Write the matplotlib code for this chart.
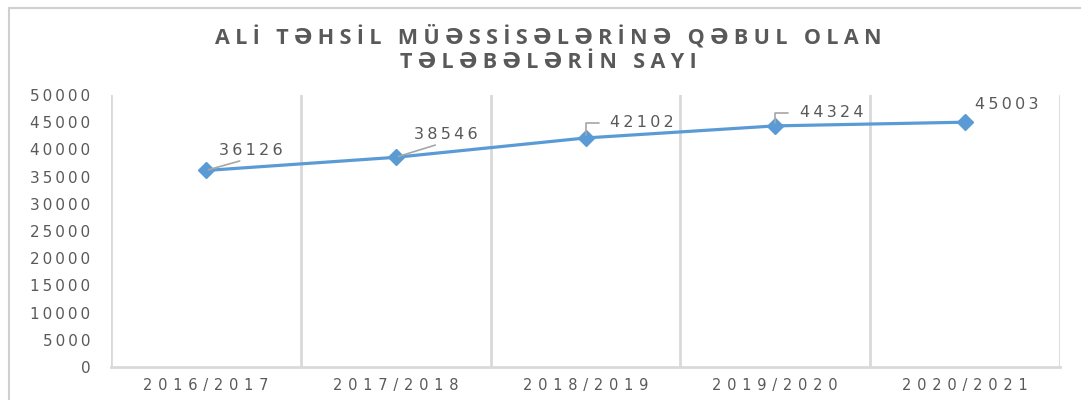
import matplotlib.pyplot as plt
from matplotlib.patches import Rectangle

# data
years = ['2016/2017', '2017/2018', '2018/2019', '2019/2020', '2020/2021']
students = [36126, 38546, 42102, 44324, 45003]
title_lines = ['ALİ TƏHSİL MÜƏSSİSƏLƏRİNƏ QƏBUL OLAN', 'TƏLƏBƏLƏRİN SAYI']

grey_txt = '#595959'
grid_c = '#D9D9D9'
blue = '#5B9BD5'

def spaced(s, sep='\u2009'):
    # fake letter spacing
    return sep.join(list(s))

fig = plt.figure(figsize=(10.81, 4.0), dpi=100)

# outer chart frame
fig.patches.append(Rectangle((9 / 1081, -0.1), 1.1, 1.1 - 8 / 400, transform=fig.transFigure,
                             fill=False, edgecolor='#D0D0D0', linewidth=1.5))

ax = fig.add_axes([111 / 1081, 33 / 400, 949 / 1081, 272 / 400])
x = list(range(len(years)))
ax.plot(x, students, color=blue, linewidth=2.3, marker='D', markersize=8,
        markerfacecolor=blue, markeredgecolor=blue, zorder=3)

ax.set_xlim(-0.5, len(years) - 0.5)
ax.set_ylim(0, 50000)
ax.set_yticks(range(0, 50001, 5000))
ax.set_yticklabels([spaced(str(v)) for v in range(0, 50001, 5000)], color=grey_txt,
                   fontsize=11, family='DejaVu Sans')
ax.set_xticks(x)
ax.set_xticklabels([spaced(y, '\u2009\u2009') for y in years], color=grey_txt, fontsize=10.5,
                   family='DejaVu Sans')
ax.tick_params(axis='y', length=0, pad=15)
ax.tick_params(axis='x', length=0, pad=8)

# vertical gridlines on category borders
for b in [i - 0.5 for i in range(len(years) + 1)]:
    ax.axvline(b, color=grid_c, linewidth=2, zorder=1)
for s in ['top', 'right', 'left']:
    ax.spines[s].set_visible(False)
ax.spines['bottom'].set_color(grid_c)
ax.spines['bottom'].set_linewidth(2)

# data labels (offsets in points)
lab_style = dict(color=grey_txt, fontsize=11.5, family='DejaVu Sans', va='center', ha='left')
lead = dict(arrowstyle='-', color='#A6A6A6', linewidth=1.2, shrinkA=1, shrinkB=2)
offsets = [(9.5, 14.5), (13, 16.5), (17.5, 11), (17.5, 9.5), (7, 13)]
for i, (v, off) in enumerate(zip(students, offsets)):
    if i in (0, 1):
        ap = dict(lead, relpos=(0.5, 0))
    elif i in (2, 3):
        ap = dict(lead, relpos=(0, 0.5), shrinkA=6,
                  connectionstyle='angle,angleA=0,angleB=90,rad=0')
    else:
        ap = None
    ax.annotate(spaced(str(v)), xy=(i, v), xytext=off, textcoords='offset points',
                arrowprops=ap, **lab_style)

# title
for line, ypx in zip(title_lines, [37, 62]):
    fig.text(0.507, 1 - ypx / 400, spaced(line, '\u2005'), ha='center', va='center',
             fontsize=15.5, fontweight='bold', color=grey_txt,
             family=['Open Sans', 'DejaVu Sans'])

fig.savefig('out.png', dpi=100)
